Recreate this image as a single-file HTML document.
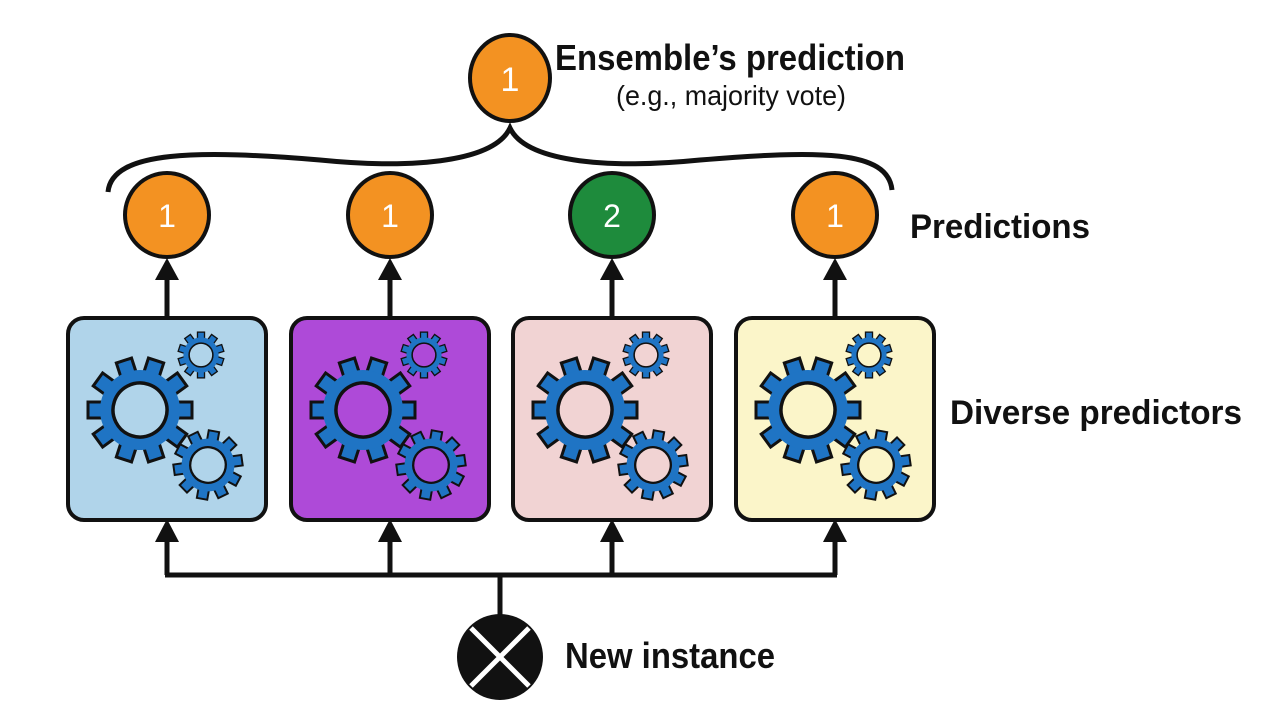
<!DOCTYPE html>
<html><head><meta charset="utf-8"><style>
html,body{margin:0;padding:0;background:#fff;}
svg{display:block;}
text{font-family:"Liberation Sans Narrow","Liberation Sans",sans-serif;fill:#111;}
.hole{fill:var(--bg);}
</style></head><body>
<svg width="1262" height="708" viewBox="0 0 1262 708" xmlns="http://www.w3.org/2000/svg">
<defs>
<g id="gear">
  <g fill="#1f74c4" stroke="#111" stroke-width="3">
    <rect x="-8" y="-52" width="16" height="16" transform="rotate(0)"/>
    <rect x="-8" y="-52" width="16" height="16" transform="rotate(36)"/>
    <rect x="-8" y="-52" width="16" height="16" transform="rotate(72)"/>
    <rect x="-8" y="-52" width="16" height="16" transform="rotate(108)"/>
    <rect x="-8" y="-52" width="16" height="16" transform="rotate(144)"/>
    <rect x="-8" y="-52" width="16" height="16" transform="rotate(180)"/>
    <rect x="-8" y="-52" width="16" height="16" transform="rotate(216)"/>
    <rect x="-8" y="-52" width="16" height="16" transform="rotate(252)"/>
    <rect x="-8" y="-52" width="16" height="16" transform="rotate(288)"/>
    <rect x="-8" y="-52" width="16" height="16" transform="rotate(324)"/>
  </g>
  <circle r="40" fill="#1f74c4"/>
  <circle r="27" class="hole" stroke="#111" stroke-width="3.5"/>
</g>
<g id="gears">
  <use href="#gear" transform="translate(73,92) rotate(18)"/>
  <use href="#gear" transform="translate(134,37) scale(0.44)"/>
  <use href="#gear" transform="translate(141,147) scale(0.66) rotate(10)"/>
</g>
</defs>

<!-- top ensemble circle -->
<ellipse cx="510" cy="78" rx="40" ry="43" fill="#f39222" stroke="#111" stroke-width="4"/>
<text x="510" y="91" font-size="34" text-anchor="middle" style="fill:#fff">1</text>
<text x="555" y="70" font-size="36" font-weight="bold" textLength="350" lengthAdjust="spacingAndGlyphs">Ensemble’s prediction</text>
<text x="731" y="105" font-size="28" text-anchor="middle" textLength="230" lengthAdjust="spacingAndGlyphs">(e.g., majority vote)</text>

<!-- brace -->
<path d="M108,192 C112,150 200,150 320,160 C420,170 495,160 510,128 C525,160 600,170 700,160 C820,150 888,150 892,190" fill="none" stroke="#111" stroke-width="5"/>

<!-- prediction circles -->
<g stroke="#111" stroke-width="4">
<ellipse cx="167" cy="215" rx="42" ry="42" fill="#f39222"/>
<ellipse cx="390" cy="215" rx="42" ry="42" fill="#f39222"/>
<ellipse cx="612" cy="215" rx="42" ry="42" fill="#1e8b3c"/>
<ellipse cx="835" cy="215" rx="42" ry="42" fill="#f39222"/>
</g>
<g font-size="32" text-anchor="middle" style="fill:#fff">
<text x="167" y="227" style="fill:#fff">1</text>
<text x="390" y="227" style="fill:#fff">1</text>
<text x="612" y="227" style="fill:#fff">2</text>
<text x="835" y="227" style="fill:#fff">1</text>
</g>
<text x="910" y="238" font-size="34" font-weight="bold" textLength="180" lengthAdjust="spacingAndGlyphs">Predictions</text>

<!-- arrows box->pred -->
<g stroke="#111" stroke-width="5">
<line x1="167" y1="318" x2="167" y2="272"/>
<line x1="390" y1="318" x2="390" y2="272"/>
<line x1="612" y1="318" x2="612" y2="272"/>
<line x1="835" y1="318" x2="835" y2="272"/>
</g>
<g fill="#111">
<polygon points="155,280 179,280 167,258"/>
<polygon points="378,280 402,280 390,258"/>
<polygon points="600,280 624,280 612,258"/>
<polygon points="823,280 847,280 835,258"/>
</g>

<!-- boxes -->
<g stroke="#111" stroke-width="4">
<rect x="68" y="318" width="198" height="202" rx="16" fill="#b0d4ea"/>
<rect x="291" y="318" width="198" height="202" rx="16" fill="#ae4ad8"/>
<rect x="513" y="318" width="198" height="202" rx="16" fill="#f1d3d3"/>
<rect x="736" y="318" width="198" height="202" rx="16" fill="#fbf5c9"/>
</g>
<use href="#gears" transform="translate(67,318)" style="--bg:#b0d4ea"/>
<use href="#gears" transform="translate(290,318)" style="--bg:#ae4ad8"/>
<use href="#gears" transform="translate(512,318)" style="--bg:#f1d3d3"/>
<use href="#gears" transform="translate(735,318)" style="--bg:#fbf5c9"/>
<text x="950" y="424" font-size="34" font-weight="bold" textLength="292" lengthAdjust="spacingAndGlyphs">Diverse predictors</text>

<!-- bottom connectors -->
<g stroke="#111" stroke-width="5" fill="none">
<line x1="165" y1="575" x2="837" y2="575"/>
<line x1="167" y1="575" x2="167" y2="535"/>
<line x1="390" y1="575" x2="390" y2="535"/>
<line x1="612" y1="575" x2="612" y2="535"/>
<line x1="835" y1="575" x2="835" y2="535"/>
<line x1="500" y1="575" x2="500" y2="620"/>
</g>
<g fill="#111">
<polygon points="155,542 179,542 167,519"/>
<polygon points="378,542 402,542 390,519"/>
<polygon points="600,542 624,542 612,519"/>
<polygon points="823,542 847,542 835,519"/>
</g>
<circle cx="500" cy="657" r="43" fill="#111"/>
<g stroke="#fff" stroke-width="5">
<line x1="471" y1="628" x2="529" y2="686"/>
<line x1="529" y1="628" x2="471" y2="686"/>
</g>
<text x="565" y="668" font-size="36" font-weight="bold" textLength="210" lengthAdjust="spacingAndGlyphs">New instance</text>
</svg>
</body></html>
